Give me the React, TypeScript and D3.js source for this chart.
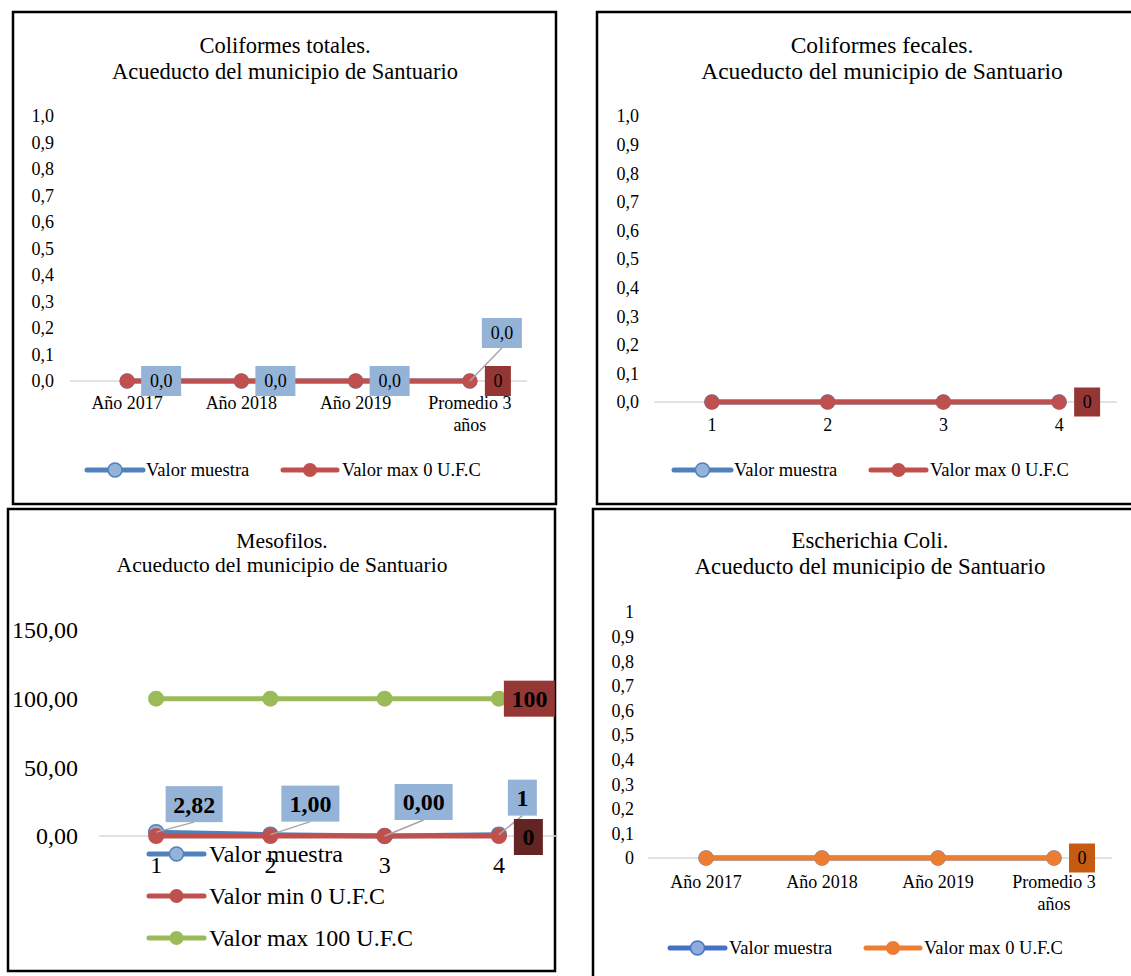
import React from "react";
import * as d3 from "d3";

// ---------- DATA ----------
const yearCategories = ["Año 2017", "Año 2018", "Año 2019", "Promedio 3 años"];
const numberCategories = ["1", "2", "3", "4"];

const totalesMuestra = [0, 0, 0, 0];
const totalesMax = [0, 0, 0, 0];
const totalesMuestraLabels = ["0,0", "0,0", "0,0", "0,0"];

const fecalesMuestra = [0, 0, 0, 0];
const fecalesMax = [0, 0, 0, 0];

const mesofilosMuestra = [2.82, 1.0, 0.0, 1];
const mesofilosMuestraLabels = ["2,82", "1,00", "0,00", "1"];
const mesofilosMin = [0, 0, 0, 0];
const mesofilosMax = [100, 100, 100, 100];

const coliMuestra = [0, 0, 0, 0];
const coliMax = [0, 0, 0, 0];

const ticksTenths = [0, 0.1, 0.2, 0.3, 0.4, 0.5, 0.6, 0.7, 0.8, 0.9, 1.0];
const ticksMesofilos = [0, 50, 100, 150];

const seriesNamesTotales = ["Valor muestra", "Valor max 0 U.F.C"];
const seriesNamesMesofilos = ["Valor muestra", "Valor min 0 U.F.C", "Valor max 100 U.F.C"];

// ---------- STYLE ----------
const FONT = "'Liberation Serif', 'Times New Roman', serif";
const BLUE = "#4F81BD";
const BLUE_FILL = "#95B3D7";
const RED = "#C0504D";
const GREEN = "#9BBB59";
const ORANGE = "#ED7D31";
const BLUE2 = "#4472C4";
const BLUE2_FILL = "#8FAADC";
const LEADER = "#A6A6A6";
const GRID = "#D9D9D9";

const fmt1 = (v: number) => d3.format(".1f")(v).replace(".", ",");
const fmt2 = (v: number) => d3.format(".2f")(v).replace(".", ",");
const fmtColi = (v: number) => (v === 0 || v === 1 ? String(v) : d3.format(".1f")(v).replace(".", ","));

function Series({ x, y, cats, values, color, r, markerFill, markerStroke, width = 5 }: any) {
  const line = d3
    .line<number>()
    .x((_, i) => (x(cats[i]) as number) + x.bandwidth() / 2)
    .y((d) => y(d));
  return (
    <g>
      <path d={line(values) || ""} fill="none" stroke={color} strokeWidth={width} strokeLinejoin="round" />
      {values.map((v: number, i: number) => (
        <circle
          key={i}
          cx={(x(cats[i]) as number) + x.bandwidth() / 2}
          cy={y(v)}
          r={r}
          fill={markerFill || color}
          stroke={markerStroke || color}
          strokeWidth={markerStroke ? 1.5 : 0}
        />
      ))}
    </g>
  );
}

function LegendItem({ x1, x2, cy, color, fill, stroke, label, fontSize, textX }: any) {
  return (
    <g>
      <line x1={x1} x2={x2} y1={cy} y2={cy} stroke={color} strokeWidth={5} strokeLinecap="round" />
      <circle cx={(x1 + x2) / 2} cy={cy} r={7} fill={fill || color} stroke={stroke || color} strokeWidth={stroke ? 1.5 : 0} />
      <text x={textX} y={cy} dy="0.35em" fontSize={fontSize} fontFamily={FONT} fill="#000">
        {label}
      </text>
    </g>
  );
}

function Box({ cx, cy, w, h, fill, text, fontSize, bold }: any) {
  return (
    <g>
      <rect x={cx - w / 2} y={cy - h / 2} width={w} height={h} fill={fill} />
      <text
        x={cx}
        y={cy}
        dy="0.35em"
        textAnchor="middle"
        fontSize={fontSize}
        fontFamily={FONT}
        fontWeight={bold ? "bold" : "normal"}
        fill="#000"
      >
        {text}
      </text>
    </g>
  );
}

function CatLabels({ x, cats, y1, y2, fontSize }: any) {
  return (
    <g>
      {cats.map((c: string, i: number) => {
        const cx = (x(c) as number) + x.bandwidth() / 2;
        const parts = c.startsWith("Promedio") ? ["Promedio 3", "años"] : [c];
        return (
          <text key={i} x={cx} y={y1} textAnchor="middle" fontSize={fontSize} fontFamily={FONT} fill="#000">
            {parts.map((p, j) => (
              <tspan key={j} x={cx} y={j === 0 ? y1 : y2}>
                {p}
              </tspan>
            ))}
          </text>
        );
      })}
    </g>
  );
}

function YTicks({ y, ticks, xRight, fontSize, format }: any) {
  return (
    <g>
      {ticks.map((t: number, i: number) => (
        <text key={i} x={xRight} y={y(t)} dy="0.35em" textAnchor="end" fontSize={fontSize} fontFamily={FONT} fill="#000">
          {format(t)}
        </text>
      ))}
    </g>
  );
}

function Title({ cx, y1, y2, line1, fontSize }: any) {
  return (
    <text textAnchor="middle" fontSize={fontSize} fontFamily={FONT} fill="#000">
      <tspan x={cx} y={y1}>{line1}</tspan>
      <tspan x={cx} y={y2}>Acueducto del municipio de Santuario</tspan>
    </text>
  );
}

export default function App() {
  // Panel 1: Coliformes totales
  const x1 = d3.scaleBand<string>().domain(yearCategories).range([70, 527]).padding(0);
  const y1 = d3.scaleLinear().domain([0, 1]).range([381, 116]);
  const px1 = (i: number) => (x1(yearCategories[i]) as number) + x1.bandwidth() / 2;

  // Panel 2: Coliformes fecales
  const x2 = d3.scaleBand<string>().domain(numberCategories).range([654, 1117]).padding(0);
  const y2 = d3.scaleLinear().domain([0, 1]).range([402, 116]);
  const px2 = (i: number) => (x2(numberCategories[i]) as number) + x2.bandwidth() / 2;

  // Panel 3: Mesofilos
  const x3 = d3.scaleBand<string>().domain(numberCategories).range([99, 556]).padding(0);
  const y3 = d3.scaleLinear().domain([0, 150]).range([836, 630]);
  const px3 = (i: number) => (x3(numberCategories[i]) as number) + x3.bandwidth() / 2;

  // Panel 4: Escherichia Coli
  const x4 = d3.scaleBand<string>().domain(yearCategories).range([648, 1112]).padding(0);
  const y4 = d3.scaleLinear().domain([0, 1]).range([858, 612]);
  const px4 = (i: number) => (x4(yearCategories[i]) as number) + x4.bandwidth() / 2;

  const mesoOffsets = [38, 40, 39, 23.5];
  const mesoWidths = [57, 58, 58, 29];
  const mesoLift = [30, 31, 34, 37];

  return (
    <svg width={1131} height={976} style={{ position: "absolute", left: 0, top: 0, background: "#fff" }}>
      <rect x={0} y={0} width={1131} height={976} fill="#fff" />

      {/* ---------- Panel 1 ---------- */}
      <rect x={13} y={12} width={543} height={492} fill="none" stroke="#000" strokeWidth={2.5} />
      <Title cx={285} y1={53} y2={79} line1="Coliformes totales." fontSize={22.5} />
      <YTicks y={y1} ticks={ticksTenths} xRight={54} fontSize={18} format={fmt1} />
      <line x1={70} x2={527} y1={y1(0)} y2={y1(0)} stroke={GRID} strokeWidth={1.5} />
      <CatLabels x={x1} cats={yearCategories} y1={409} y2={431} fontSize={18} />
      <Series x={x1} y={y1} cats={yearCategories} values={totalesMuestra} color={BLUE} r={7} markerFill={BLUE_FILL} markerStroke={BLUE} />
      <Series x={x1} y={y1} cats={yearCategories} values={totalesMax} color={RED} r={7.5} />
      {totalesMuestraLabels.slice(0, 3).map((l, i) => (
        <Box key={i} cx={px1(i) + 34} cy={y1(totalesMuestra[i])} w={40} h={30} fill={BLUE_FILL} text={l} fontSize={18} />
      ))}
      <line x1={px1(3)} y1={y1(totalesMuestra[3])} x2={px1(3) + 32} y2={y1(totalesMuestra[3]) - 33} stroke={LEADER} strokeWidth={1.5} />
      <Box cx={px1(3) + 32} cy={y1(totalesMuestra[3]) - 48} w={40} h={30} fill={BLUE_FILL} text={totalesMuestraLabels[3]} fontSize={18} />
      <Box cx={px1(3) + 28} cy={y1(totalesMax[3])} w={26} h={30} fill="#943634" text={String(totalesMax[3])} fontSize={18} />
      <LegendItem x1={87} x2={143} cy={470} color={BLUE} fill={BLUE_FILL} stroke={BLUE} label={seriesNamesTotales[0]} fontSize={18.5} textX={146} />
      <LegendItem x1={283} x2={337} cy={470} color={RED} label={seriesNamesTotales[1]} fontSize={18.5} textX={342} />

      {/* ---------- Panel 2 ---------- */}
      <rect x={597} y={12} width={560} height={492} fill="none" stroke="#000" strokeWidth={2.5} />
      <Title cx={882} y1={53} y2={79} line1="Coliformes fecales." fontSize={23.5} />
      <YTicks y={y2} ticks={ticksTenths} xRight={639} fontSize={18} format={fmt1} />
      <line x1={654} x2={1117} y1={y2(0)} y2={y2(0)} stroke={GRID} strokeWidth={1.5} />
      <CatLabels x={x2} cats={numberCategories} y1={431} y2={453} fontSize={18} />
      <Series x={x2} y={y2} cats={numberCategories} values={fecalesMuestra} color={BLUE} r={7} markerFill={BLUE_FILL} markerStroke={BLUE} />
      <Series x={x2} y={y2} cats={numberCategories} values={fecalesMax} color={RED} r={7.5} />
      <Box cx={px2(3) + 28} cy={y2(fecalesMax[3])} w={26} h={29} fill="#943634" text={String(fecalesMax[3])} fontSize={18} />
      <LegendItem x1={674} x2={731} cy={470} color={BLUE} fill={BLUE_FILL} stroke={BLUE} label={seriesNamesTotales[0]} fontSize={18.5} textX={734} />
      <LegendItem x1={871} x2={926} cy={470} color={RED} label={seriesNamesTotales[1]} fontSize={18.5} textX={930} />

      {/* ---------- Panel 3 ---------- */}
      <rect x={8} y={509} width={547} height={462} fill="none" stroke="#000" strokeWidth={2.5} />
      <Title cx={282} y1={548} y2={572} line1="Mesofilos." fontSize={21.5} />
      <YTicks y={y3} ticks={ticksMesofilos} xRight={78} fontSize={24} format={fmt2} />
      <line x1={99} x2={556} y1={y3(0)} y2={y3(0)} stroke={GRID} strokeWidth={1.5} />
      <CatLabels x={x3} cats={numberCategories} y1={873} y2={895} fontSize={24} />
      <Series x={x3} y={y3} cats={numberCategories} values={mesofilosMuestra} color={BLUE} r={7.5} markerFill={BLUE_FILL} markerStroke={BLUE} />
      <Series x={x3} y={y3} cats={numberCategories} values={mesofilosMin} color={RED} r={8} />
      <Series x={x3} y={y3} cats={numberCategories} values={mesofilosMax} color={GREEN} r={8} />
      {mesofilosMuestraLabels.map((l, i) => {
        const cx = px3(i) + mesoOffsets[i];
        const cy = y3(mesofilosMuestra[i]) - mesoLift[i] + (i === 0 ? 2 : 0);
        const bottom = cy + 18;
        return (
          <g key={i}>
            <line x1={px3(i)} y1={y3(mesofilosMuestra[i])} x2={cx} y2={bottom} stroke={LEADER} strokeWidth={1.5} />
            <Box cx={cx} cy={cy} w={mesoWidths[i]} h={36} fill={BLUE_FILL} text={l} fontSize={24} bold />
          </g>
        );
      })}
      <Box cx={px3(3) + 30.5} cy={y3(mesofilosMax[3])} w={51} h={36} fill="#953735" text={String(mesofilosMax[3])} fontSize={24} bold />
      <Box cx={px3(3) + 29.5} cy={y3(mesofilosMin[3]) + 1} w={29} h={36} fill="#632523" text={String(mesofilosMin[3])} fontSize={24} bold />
      <LegendItem x1={149} x2={204} cy={854} color={BLUE} fill={BLUE_FILL} stroke={BLUE} label={seriesNamesMesofilos[0]} fontSize={24} textX={209} />
      <LegendItem x1={149} x2={204} cy={896} color={RED} label={seriesNamesMesofilos[1]} fontSize={24} textX={209} />
      <LegendItem x1={149} x2={204} cy={938} color={GREEN} label={seriesNamesMesofilos[2]} fontSize={24} textX={209} />

      {/* ---------- Panel 4 ---------- */}
      <rect x={593} y={509} width={560} height={480} fill="none" stroke="#000" strokeWidth={2.5} />
      <Title cx={870} y1={548} y2={574} line1="Escherichia Coli." fontSize={22.8} />
      <YTicks y={y4} ticks={ticksTenths} xRight={634} fontSize={18} format={fmtColi} />
      <line x1={648} x2={1112} y1={y4(0)} y2={y4(0)} stroke={GRID} strokeWidth={1.5} />
      <CatLabels x={x4} cats={yearCategories} y1={888} y2={910} fontSize={18} />
      <Series x={x4} y={y4} cats={yearCategories} values={coliMuestra} color={BLUE2} r={7} markerFill={BLUE2_FILL} markerStroke={BLUE2} />
      <Series x={x4} y={y4} cats={yearCategories} values={coliMax} color={ORANGE} r={7.5} />
      <Box cx={px4(3) + 28} cy={y4(coliMax[3])} w={26} h={29} fill="#C55A11" text={String(coliMax[3])} fontSize={18} />
      <LegendItem x1={670} x2={725} cy={948} color={BLUE2} fill={BLUE2_FILL} stroke={BLUE2} label={seriesNamesTotales[0]} fontSize={18.5} textX={729} />
      <LegendItem x1={866} x2={920} cy={948} color={ORANGE} label={seriesNamesTotales[1]} fontSize={18.5} textX={924} />
    </svg>
  );
}
